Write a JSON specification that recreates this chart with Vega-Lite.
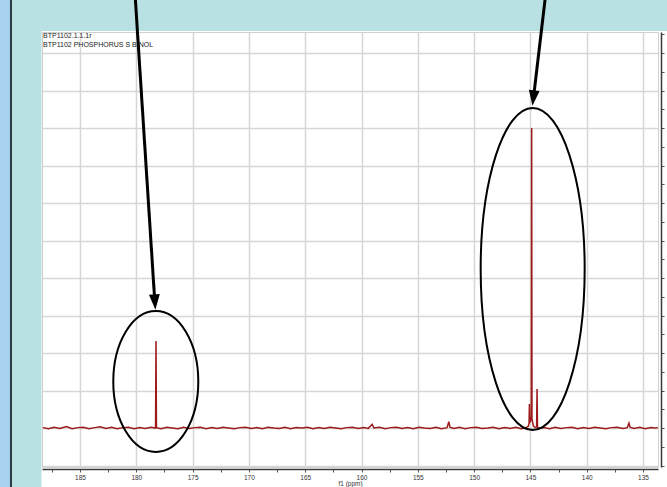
{
  "$schema": "https://vega.github.io/schema/vega-lite/v6.json",
  "width": 616,
  "height": 435,
  "autosize": {"type": "none"},
  "padding": {"left": 42, "top": 32, "right": 9, "bottom": 20},
  "background": "white",
  "config": {"view": {"fill": "white", "stroke": "#cfcfcf", "strokeWidth": 1}},
  "datasets": {
    "spectrum": [
      {"x": 188.3, "y": 0.01}, {"x": 187.8, "y": -0.02}, {"x": 187.3, "y": 0.02}, {"x": 186.8, "y": -0.01},
      {"x": 186.2, "y": 0.04}, {"x": 185.7, "y": -0.02}, {"x": 185.2, "y": 0.01}, {"x": 184.7, "y": 0.02},
      {"x": 184.2, "y": -0.02}, {"x": 183.7, "y": 0.01}, {"x": 183.2, "y": 0.03}, {"x": 182.7, "y": -0.01},
      {"x": 182.2, "y": 0.02}, {"x": 181.7, "y": -0.02}, {"x": 181.2, "y": 0.01}, {"x": 180.7, "y": 0.02},
      {"x": 180.2, "y": -0.02}, {"x": 179.7, "y": 0.01}, {"x": 179.2, "y": -0.01}, {"x": 178.7, "y": 0.02},
      {"x": 178.29, "y": 0.0}, {"x": 178.25, "y": 2.32}, {"x": 178.21, "y": 0.01},
      {"x": 177.8, "y": -0.02}, {"x": 177.3, "y": 0.02}, {"x": 176.8, "y": 0.0}, {"x": 176.3, "y": -0.02},
      {"x": 175.8, "y": 0.02}, {"x": 175.3, "y": -0.01}, {"x": 174.8, "y": 0.01}, {"x": 174.3, "y": 0.02},
      {"x": 173.8, "y": -0.02}, {"x": 173.3, "y": 0.01}, {"x": 172.8, "y": -0.01}, {"x": 172.3, "y": 0.02},
      {"x": 171.8, "y": 0.0}, {"x": 171.3, "y": -0.02}, {"x": 170.8, "y": 0.01}, {"x": 170.3, "y": 0.02},
      {"x": 169.8, "y": -0.01}, {"x": 169.3, "y": 0.01}, {"x": 168.8, "y": -0.02}, {"x": 168.3, "y": 0.02},
      {"x": 167.8, "y": 0.0}, {"x": 167.3, "y": -0.01}, {"x": 166.8, "y": 0.02}, {"x": 166.3, "y": -0.02},
      {"x": 165.8, "y": 0.01}, {"x": 165.3, "y": 0.0}, {"x": 164.8, "y": 0.02}, {"x": 164.3, "y": -0.02},
      {"x": 163.8, "y": 0.01}, {"x": 163.3, "y": -0.01}, {"x": 162.8, "y": 0.02}, {"x": 162.3, "y": 0.0},
      {"x": 161.8, "y": -0.02}, {"x": 161.3, "y": 0.01}, {"x": 160.8, "y": 0.02}, {"x": 160.3, "y": -0.01},
      {"x": 159.8, "y": 0.01}, {"x": 159.4, "y": -0.01}, {"x": 159.05, "y": 0.1}, {"x": 158.9, "y": 0.0},
      {"x": 158.4, "y": 0.02}, {"x": 157.9, "y": -0.02}, {"x": 157.4, "y": 0.01}, {"x": 156.9, "y": 0.02},
      {"x": 156.4, "y": -0.01}, {"x": 155.9, "y": 0.01}, {"x": 155.4, "y": -0.02}, {"x": 154.9, "y": 0.02},
      {"x": 154.4, "y": 0.0}, {"x": 153.9, "y": -0.01}, {"x": 153.4, "y": 0.02}, {"x": 152.9, "y": -0.02},
      {"x": 152.4, "y": 0.01}, {"x": 152.25, "y": 0.17}, {"x": 152.15, "y": 0.02}, {"x": 151.8, "y": -0.01},
      {"x": 151.3, "y": 0.02}, {"x": 150.8, "y": -0.02}, {"x": 150.3, "y": 0.01}, {"x": 149.8, "y": 0.02},
      {"x": 149.3, "y": -0.01}, {"x": 148.8, "y": 0.0}, {"x": 148.3, "y": 0.02}, {"x": 147.8, "y": -0.02},
      {"x": 147.3, "y": 0.01}, {"x": 146.8, "y": -0.01}, {"x": 146.3, "y": 0.02}, {"x": 145.8, "y": -0.02},
      {"x": 145.4, "y": 0.01}, {"x": 145.2, "y": 0.04}, {"x": 145.12, "y": 0.12}, {"x": 145.09, "y": 0.64},
      {"x": 145.06, "y": 0.15}, {"x": 145.0, "y": 0.18}, {"x": 144.92, "y": 0.3}, {"x": 144.89, "y": 8.0},
      {"x": 144.86, "y": 0.25}, {"x": 144.75, "y": 0.06}, {"x": 144.6, "y": 0.02}, {"x": 144.45, "y": 0.03},
      {"x": 144.41, "y": 1.04}, {"x": 144.37, "y": 0.02}, {"x": 144.2, "y": -0.01}, {"x": 143.8, "y": 0.01},
      {"x": 143.3, "y": -0.02}, {"x": 142.8, "y": 0.02}, {"x": 142.3, "y": -0.01}, {"x": 141.8, "y": 0.01},
      {"x": 141.3, "y": 0.02}, {"x": 140.8, "y": -0.02}, {"x": 140.3, "y": 0.01}, {"x": 139.8, "y": -0.01},
      {"x": 139.3, "y": 0.02}, {"x": 138.8, "y": 0.0}, {"x": 138.3, "y": -0.02}, {"x": 137.8, "y": 0.01},
      {"x": 137.3, "y": 0.02}, {"x": 136.8, "y": -0.01}, {"x": 136.4, "y": 0.01}, {"x": 136.25, "y": 0.13},
      {"x": 136.15, "y": 0.02}, {"x": 135.8, "y": -0.01}, {"x": 135.3, "y": 0.02}, {"x": 134.8, "y": -0.02},
      {"x": 134.3, "y": 0.01}, {"x": 133.9, "y": 0.0}, {"x": 133.68, "y": 0.01}
    ],
    "arrows": [
      {"id": 1, "x": 180.12, "y": 11.6}, {"id": 1, "x": 178.38, "y": 3.47},
      {"id": 2, "x": 143.65, "y": 11.55}, {"id": 2, "x": 144.73, "y": 8.8}
    ],
    "heads": [
      {"id": 1, "x": 178.35, "y": 3.36},
      {"id": 2, "x": 144.74, "y": 8.8}
    ],
    "ellipses": [
      {"id": 1, "x": 178.27, "y": 1.24},
      {"id": 2, "x": 144.8, "y": 4.24}
    ],
    "edge": [
      {"part": "cyan", "x": 191.1, "x2": 188.42, "y": 11.8, "y2": -1.8},
      {"part": "cyan", "x": 191.1, "x2": 132.5, "y": 11.8, "y2": 10.585},
      {"part": "strip", "x": 192.3, "x2": 191.22, "y": 11.8, "y2": -1.8},
      {"part": "line", "x": 191.22, "x2": 191.04, "y": 11.8, "y2": -1.8}
    ],
    "header": [
      {"x": 188.28, "y": 10.41, "text": "BTP1102.1.1.1r"},
      {"x": 188.28, "y": 10.17, "text": "BTP1102 PHOSPHORUS S BINOL"}
    ]
  },
  "encoding": {
    "x": {
      "field": "x", "type": "quantitative",
      "scale": {"domain": [188.375, 133.67], "nice": false, "zero": false},
      "axis": {
        "orient": "bottom",
        "title": "f1 (ppm)",
        "values": [187.5, 185, 182.5, 180, 177.5, 175, 172.5, 170, 167.5, 165, 162.5, 160, 157.5, 155, 152.5, 150, 147.5, 145, 142.5, 140, 137.5, 135],
        "labelExpr": "datum.value % 5 === 0 ? datum.label : ''",
        "grid": true,
        "gridColor": {"condition": {"test": "datum.value % 5 !== 0", "value": "transparent"}, "value": "#d6d6d6"},
        "gridWidth": 1.5,
        "domainColor": "#3a3a3a",
        "domainWidth": 1.5,
        "offset": 2,
        "tickColor": "#555",
        "tickSize": 3,
        "labelFont": "Liberation Sans",
        "labelFontSize": 6.5,
        "labelColor": "#333",
        "labelPadding": 2,
        "labelOverlap": false,
        "labelFlush": false,
        "titleFont": "Liberation Sans",
        "titleFontSize": 6.5,
        "titleFontWeight": "normal",
        "titleColor": "#333",
        "titlePadding": 0
      }
    },
    "y": {
      "field": "y", "type": "quantitative",
      "scale": {"domain": [-1.04, 10.56], "nice": false, "zero": false},
      "axis": {
        "orient": "right",
        "title": null,
        "values": [-1, -0.5, 0, 0.5, 1, 1.5, 2, 2.5, 3, 3.5, 4, 4.5, 5, 5.5, 6, 6.5, 7, 7.5, 8, 8.5, 9, 9.5, 10, 10.5],
        "labels": false,
        "grid": true,
        "gridColor": {"condition": {"test": "datum.value % 1 !== 0", "value": "transparent"}, "value": "#d6d6d6"},
        "gridWidth": 1.5,
        "domainColor": "#3a3a3a",
        "domainWidth": 1.5,
        "offset": 3,
        "tickColor": "#555",
        "tickSize": 3
      }
    }
  },
  "layer": [
    {
      "data": {"name": "spectrum"},
      "mark": {"type": "line", "color": "#9e1a1a", "strokeWidth": 1.5, "clip": true}
    },
    {
      "data": {"name": "edge"},
      "transform": [{"filter": "datum.part == 'cyan'"}],
      "mark": {"type": "rect", "color": "#b9e0e3"},
      "encoding": {"x2": {"field": "x2"}, "y2": {"field": "y2"}}
    },
    {
      "data": {"name": "edge"},
      "transform": [{"filter": "datum.part == 'strip'"}],
      "mark": {"type": "rect", "color": "#a8d2f0"},
      "encoding": {"x2": {"field": "x2"}, "y2": {"field": "y2"}}
    },
    {
      "data": {"name": "edge"},
      "transform": [{"filter": "datum.part == 'line'"}],
      "mark": {"type": "rect", "color": "#2a3a42"},
      "encoding": {"x2": {"field": "x2"}, "y2": {"field": "y2"}}
    },
    {
      "data": {"name": "header"},
      "mark": {"type": "text", "align": "left", "baseline": "alphabetic", "font": "Liberation Sans", "fontSize": 7, "color": "#222"},
      "encoding": {"text": {"field": "text"}}
    },
    {
      "data": {"name": "ellipses"},
      "transform": [{"filter": "datum.id == 1"}],
      "mark": {
        "type": "point", "filled": false, "stroke": "black", "strokeWidth": 2, "opacity": 1,
        "shape": "M0.603,0 C0.603,0.552 0.333,1 0,1 C-0.333,1 -0.603,0.552 -0.603,0 C-0.603,-0.552 -0.333,-1 0,-1 C0.333,-1 0.603,-0.552 0.603,0 Z",
        "size": 19881
      }
    },
    {
      "data": {"name": "ellipses"},
      "transform": [{"filter": "datum.id == 2"}],
      "mark": {
        "type": "point", "filled": false, "stroke": "black", "strokeWidth": 2, "opacity": 1,
        "shape": "M0.323,0 C0.323,0.552 0.178,1 0,1 C-0.178,1 -0.323,0.552 -0.323,0 C-0.323,-0.552 -0.178,-1 0,-1 C0.178,-1 0.323,-0.552 0.323,0 Z",
        "size": 103684
      }
    },
    {
      "data": {"name": "arrows"},
      "mark": {"type": "line", "color": "black", "strokeWidth": 3},
      "encoding": {"detail": {"field": "id", "type": "nominal"}}
    },
    {
      "data": {"name": "heads"},
      "transform": [{"filter": "datum.id == 1"}],
      "mark": {"type": "point", "filled": true, "color": "black", "opacity": 1, "shape": "M0,1 L-0.7,-1 L0.7,-1 Z", "size": 240, "angle": -3.75}
    },
    {
      "data": {"name": "heads"},
      "transform": [{"filter": "datum.id == 2"}],
      "mark": {"type": "point", "filled": true, "color": "black", "opacity": 1, "shape": "M0,1 L-0.7,-1 L0.7,-1 Z", "size": 240, "angle": 6.8}
    }
  ]
}
